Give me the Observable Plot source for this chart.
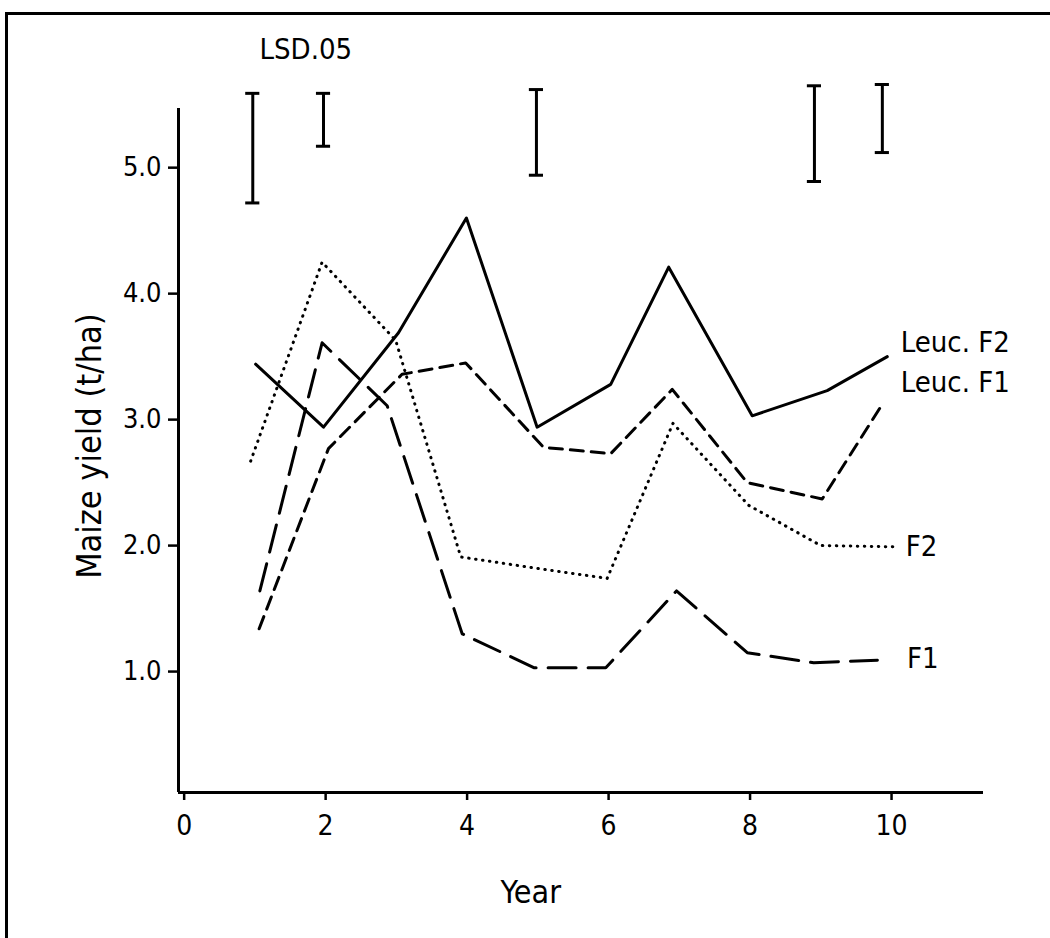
<!DOCTYPE html>
<html><head><meta charset="utf-8">
<script src="https://cdn.jsdelivr.net/npm/d3@7"></script>
<script src="https://cdn.jsdelivr.net/npm/@observablehq/plot@0.6"></script>
<style>
body{margin:0;background:#fff;}
#wrap{position:relative;width:1050px;height:938px;overflow:hidden;background:#fff;}
#frame{position:absolute;left:5px;top:12px;width:1100px;height:1000px;border-top:3px solid #000;border-left:3px solid #000;}
#chart{position:absolute;left:0;top:0;}
</style></head><body><div id="wrap"><div id="frame"></div><div id="chart"></div></div>
<script>
// Series values (x = year position, y = maize yield t/ha)
const leucF2Year  = [1.01, 1.97, 3.03, 3.99, 4.99, 6.03, 6.85, 8.03, 9.09, 9.94];
const leucF2Yield = [3.44, 2.94, 3.69, 4.60, 2.94, 3.28, 4.21, 3.03, 3.23, 3.50];
const leucF1Year  = [1.06, 2.04, 3.08, 3.98, 5.08, 6.03, 6.90, 7.96, 9.02, 9.89];
const leucF1Yield = [1.34, 2.77, 3.36, 3.45, 2.78, 2.73, 3.24, 2.50, 2.37, 3.14];
const f2Year      = [0.94, 1.95, 2.99, 3.91, 4.98, 5.98, 6.91, 7.98, 9.00, 10.08];
const f2Yield     = [2.67, 4.25, 3.63, 1.91, 1.82, 1.74, 2.97, 2.32, 2.00, 1.99];
const f1Year      = [1.07, 1.95, 2.87, 3.93, 4.95, 5.96, 6.96, 7.96, 8.90, 9.80];
const f1Yield     = [1.64, 3.61, 3.11, 1.30, 1.03, 1.03, 1.64, 1.15, 1.07, 1.09];

// LSD.05 bars
const lsdYear = [0.97, 1.97, 4.98, 8.91, 9.87];
const lsdLow  = [4.72, 5.17, 4.94, 4.89, 5.12];
const lsdHigh = [5.59, 5.59, 5.62, 5.65, 5.66];

// Tick labels
const xTicks = [0, 2, 4, 6, 8, 10];
const yTicks = [1, 2, 3, 4, 5];

// Series labels and their anchor positions
const seriesNames = ["Leuc. F2", "Leuc. F1", "F2", "F1"];
const labelYear  = [10.13, 10.13, 10.20, 10.22];
const labelYield = [3.61, 3.29, 1.99, 1.10];

const xMin = -0.08, xMax = 11.3, yMin = 0.04, yAxisTop = 5.47, yMax = 6.2;
const FONT = "'Liberation Sans Narrow', 'Arial Narrow', 'DejaVu Sans Condensed', 'Liberation Sans', sans-serif";

const mk = (name, xs, ys) => xs.map((x, i) => ({series: name, year: x, yield: ys[i]}));
const rows = [
  ...mk("Leuc. F2", leucF2Year, leucF2Yield),
  ...mk("Leuc. F1", leucF1Year, leucF1Yield),
  ...mk("F2", f2Year, f2Yield),
  ...mk("F1", f1Year, f1Yield)
];
const styles = {
  "Leuc. F2": {strokeDasharray: null},
  "Leuc. F1": {strokeDasharray: "13,8"},
  "F2": {strokeDasharray: "0.5,6.5", strokeLinecap: "round"},
  "F1": {strokeDasharray: "28,12"}
};
const lsd = lsdYear.map((x, i) => ({year: x, low: lsdLow[i], high: lsdHigh[i]}));
const labels = seriesNames.map((n, i) => ({name: n, year: labelYear[i], yield: labelYield[i]}));

const lineMarks = seriesNames.map(n => Plot.line(rows.filter(d => d.series === n), {
  x: "year", y: "yield", stroke: "#000", strokeWidth: 3, ...styles[n]
}));

const chart = Plot.plot({
  width: 1050, height: 938,
  marginLeft: 178, marginRight: 67, marginTop: 16, marginBottom: 146,
  style: {fontFamily: FONT, background: "transparent", overflow: "visible", color: "#000"},
  x: {domain: [xMin, xMax]},
  y: {domain: [yMin, yMax]},
  marks: [
    Plot.ruleX([xMin], {y1: () => yMin, y2: () => yAxisTop, stroke: "#000", strokeWidth: 3}),
    Plot.ruleY([yMin], {x1: () => xMin, x2: () => xMax, stroke: "#000", strokeWidth: 3}),
    Plot.axisY({ticks: yTicks, tickFormat: d3.format(".1f"), tickSize: 10, tickPadding: 7, fontSize: 27, strokeWidth: 2.5, label: null}),
    Plot.axisX({ticks: xTicks, tickFormat: d => String(d), tickSize: 8, tickPadding: 15, fontSize: 28, strokeWidth: 2.5, label: null}),
    ...lineMarks,
    Plot.ruleX(lsd, {x: "year", y1: "low", y2: "high", stroke: "#000", strokeWidth: 3}),
    Plot.ruleY(lsd, {y: "low", x1: d => d.year - 0.1, x2: d => d.year + 0.1, stroke: "#000", strokeWidth: 3}),
    Plot.ruleY(lsd, {y: "high", x1: d => d.year - 0.1, x2: d => d.year + 0.1, stroke: "#000", strokeWidth: 3}),
    Plot.text(labels, {x: "year", y: "yield", text: "name", textAnchor: "start", lineAnchor: "middle", fontSize: 29, fill: "#000"}),
    Plot.text(["LSD.05"], {x: () => 1.065, y: () => 5.94, text: d => d, textAnchor: "start", lineAnchor: "middle", fontSize: 29, fill: "#000"}),
    Plot.text(["Year"], {x: () => 4.9, frameAnchor: "bottom", text: d => d, lineAnchor: "top", dy: 88, fontSize: 32, fill: "#000"}),
    Plot.text(["Maize yield (t/ha)"], {y: () => 2.79, frameAnchor: "left", dx: -88, rotate: -90, text: d => d, lineAnchor: "middle", textAnchor: "middle", fontSize: 34, fill: "#000"})
  ]
});
document.getElementById("chart").appendChild(chart);
</script>
</body></html>
